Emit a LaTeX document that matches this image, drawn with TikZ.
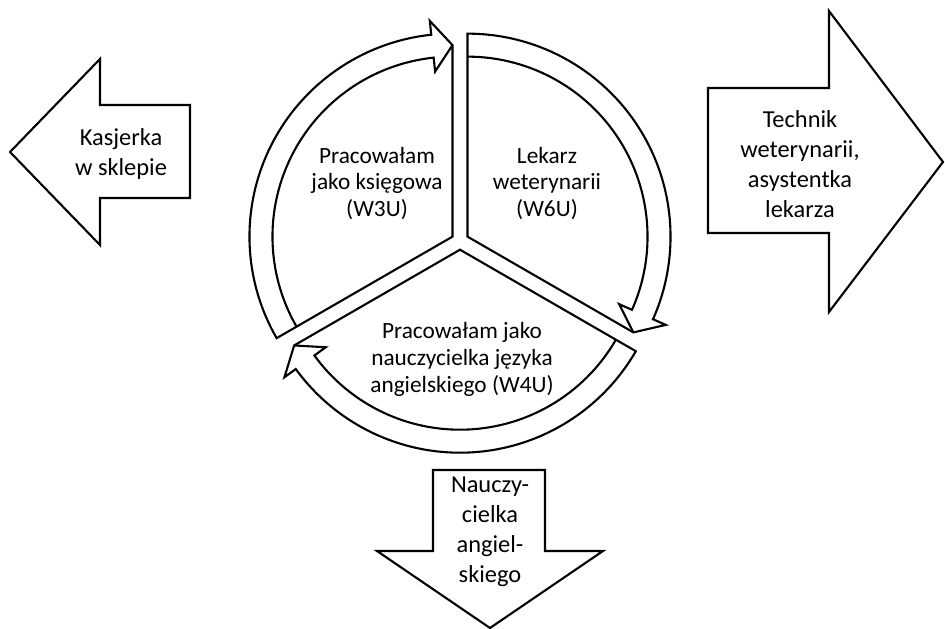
\documentclass[tikz,border=0pt]{standalone}
\usepackage{fontspec}
\setmainfont{Carlito}
\usepackage{tikz}
\usetikzlibrary{calc}
\tikzset{myShapeLine/.style={line width=2.1pt,color=black,line join=miter}}
\tikzset{myArrowText/.style={align=center,font=\fontsize{24.4}{30}\selectfont}}
\tikzset{myCycleText/.style={align=center,font=\fontsize{23.3}{26.7}\selectfont}}
\newcommand{\rOut}{203}
\newcommand{\rIn}{180}
\newcommand{\rMid}{191.5}
% one exploded pie piece with its circular arrow: centre, start angle
\newcommand{\cycleSeg}[2]{%
	\draw[myShapeLine](#1) -- ($(#1)+(#2:\rOut)$) arc[start angle=#2, end angle=#2-114, radius=\rOut]
		-- ($(#1)+(#2-114:\rOut+14)$) -- ($(#1)+(#2-120:\rMid)$) -- cycle;
	\draw[myShapeLine]($(#1)+(#2:\rIn)$) arc[start angle=#2, end angle=#2-114, radius=\rIn]
		-- ($(#1)+(#2-114:\rIn-14)$) -- ($(#1)+(#2-120:\rMid)$);
}

\begin{document}
\begin{tikzpicture}[x=1pt,y=1pt]
	\useasboundingbox (0,0) rectangle (945,629);
	%\draw[help lines, step=50](0,0) grid(945,629);

	% the cycle
	\coordinate (C) at (460,388);
	\coordinate (cR) at ($(C)+(30:8.7)$);
	\coordinate (cB) at ($(C)+(-90:8.7)$);
	\coordinate (cL) at ($(C)+(150:8.7)$);
	\cycleSeg{cR}{90}
	\cycleSeg{cB}{-30}
	\cycleSeg{cL}{210}
	\node[myCycleText] (ksiegowa) at (377,445.7) {Pracowałam\\jako księgowa\\(W3U)};
	\node[myCycleText] (lekarz) at (547,445.7) {Lekarz\\weterynarii\\(W6U)};
	\node[myCycleText] (nauczycielka) at (462,269.5) {Pracowałam jako\\nauczycielka języka\\angielskiego (W4U)};

	% left block arrow
	\draw[myShapeLine](10,477) -- (100,570) -- (100,524) -- (190,524) -- (190,431) -- (100,431) -- (100,384) -- cycle;
	\node[myArrowText] (kasjerka) at (121,475) {Kasjerka\\w sklepie};

	% right block arrow
	\draw[myShapeLine](943,467) -- (829,618) -- (829,541) -- (708,541) -- (708,396) -- (829,396) -- (829,317) -- cycle;
	\node[myArrowText] (technik) at (800,465) {Technik\\weterynarii,\\asystentka\\lekarza};

	% down block arrow
	\draw[myShapeLine](490,1) -- (377,78) -- (433,78) -- (433,159) -- (545,159) -- (545,78) -- (603,78) -- cycle;
	\node[myArrowText] (angielski) at (490,97) {Nauczy-\\cielka\\angiel-\\skiego};
\end{tikzpicture}
\end{document}
